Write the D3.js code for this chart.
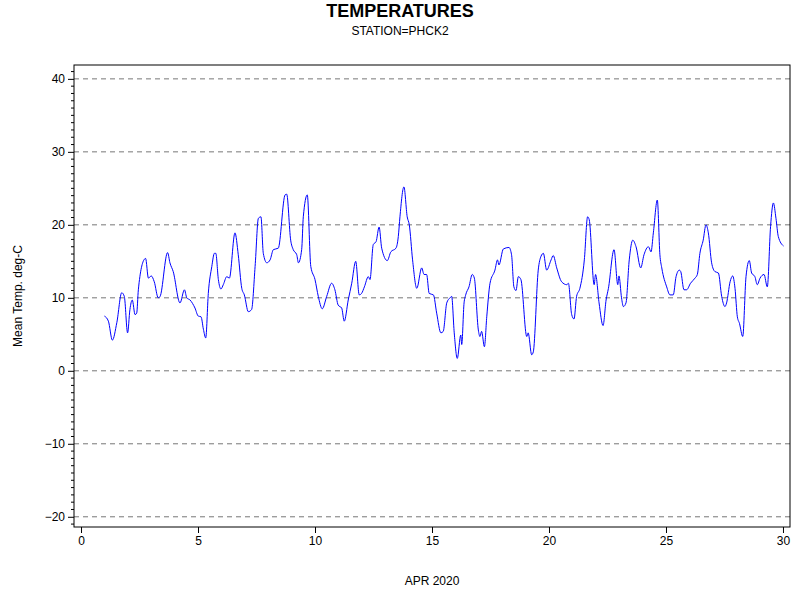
<!DOCTYPE html>
<html><head><meta charset="utf-8">
<script src="https://cdn.jsdelivr.net/npm/d3@7"></script>
<style>body{margin:0;background:#fff}svg{display:block;font-family:Arial,"Liberation Sans",sans-serif}</style>
</head><body><svg id="c" width="800" height="600"></svg>
<script>
const xTicks=[0,5,10,15,20,25,30];
const yTicks=[-20,-10,0,10,20,30,40];
const days=[1.0,1.17,1.34,1.53,1.74,1.85,1.99,2.09,2.19,2.31,2.38,2.45,2.71,2.76,2.88,3.0,3.13,3.3,3.38,3.7,3.8,3.94,4.23,4.42,4.52,4.66,4.87,5.01,5.13,5.23,5.33,5.44,5.59,5.7,5.76,5.87,5.98,6.08,6.23,6.34,6.58,6.72,6.87,6.98,7.15,7.29,7.44,7.58,7.69,7.79,7.94,8.08,8.22,8.43,8.72,8.79,8.96,9.07,9.22,9.29,9.43,9.5,9.67,9.82,10.0,10.14,10.31,10.5,10.71,10.85,10.99,11.14,11.25,11.42,11.57,11.74,11.89,11.99,12.11,12.28,12.35,12.49,12.61,12.74,12.85,13.09,13.24,13.46,13.56,13.63,13.8,13.94,14.03,14.17,14.35,14.56,14.66,14.77,14.88,15.06,15.2,15.38,15.48,15.63,15.77,15.84,15.95,16.08,16.23,16.27,16.37,16.44,16.58,16.72,16.81,16.98,17.05,17.12,17.24,17.34,17.48,17.69,17.8,17.86,18.05,18.29,18.4,18.5,18.59,18.69,18.8,19.05,19.11,19.26,19.33,19.54,19.66,19.76,19.9,20.09,20.18,20.33,20.54,20.76,20.83,20.97,21.07,21.18,21.32,21.51,21.65,21.72,21.93,21.99,22.14,22.31,22.44,22.54,22.78,22.94,22.99,23.1,23.18,23.29,23.43,23.58,23.72,23.92,24.06,24.25,24.36,24.46,24.63,24.74,24.82,25.03,25.17,25.31,25.43,25.57,25.63,25.77,25.88,26.05,26.24,26.34,26.45,26.59,26.71,26.81,26.95,27.09,27.24,27.38,27.52,27.59,27.74,27.85,27.95,28.05,28.14,28.28,28.42,28.56,28.66,28.8,28.9,29.02,29.19,29.33,29.47,29.59,29.7,29.8,30.02];
const temps=[7.5,6.8,4.2,6.6,10.7,10.2,5.2,8.4,9.7,7.7,7.9,11.1,15.3,15.4,12.7,13.0,12.2,10.0,10.2,16.2,14.8,13.6,9.3,11.1,10.0,9.7,8.6,7.5,7.4,5.7,4.5,10.6,14.3,16.1,16.1,12.5,11.2,11.8,12.9,12.7,18.9,15.9,11.3,10.4,8.1,8.4,14.3,20.9,21.1,16.1,14.8,15.2,16.6,16.8,24.1,24.2,17.9,16.6,15.9,14.8,16.6,21.1,24.1,14.3,12.5,10.2,8.5,10.2,12.0,11.1,9.0,8.6,6.8,9.7,12.0,15.0,10.4,10.6,11.5,12.9,12.5,17.3,17.7,19.7,16.8,15.1,16.3,16.8,18.4,21.1,25.2,21.1,20.0,15.2,11.3,14.1,13.2,13.2,10.6,10.4,7.9,5.2,5.4,9.3,10.0,10.2,5.2,1.7,4.9,3.6,9.3,10.4,11.5,13.2,12.7,5.6,4.7,5.4,3.3,7.4,12.0,13.8,15.2,14.5,16.7,16.9,15.9,11.5,11.0,12.9,12.5,4.7,5.2,2.2,2.6,13.8,15.7,16.1,13.8,15.2,15.8,14.1,12.2,11.8,12.0,7.7,7.1,10.2,11.3,15.2,21.1,20.7,11.8,13.2,9.3,6.2,9.7,11.3,16.6,11.8,13.0,10.0,8.8,9.3,15.2,17.9,17.0,14.1,15.9,17.0,16.3,18.9,23.4,15.9,14.1,11.5,10.4,10.4,12.9,13.8,13.6,11.1,11.1,12.0,12.7,13.2,16.1,17.9,20.0,18.9,14.8,13.6,13.4,10.2,8.8,9.3,12.2,13.0,11.3,7.4,6.5,4.7,12.9,15.1,13.4,12.9,11.8,12.7,13.2,11.5,19.8,23.0,20.9,18.4,17.1];

const svg=d3.select("#c");
const L=74,R=790,T=65,B=527;
const x=d3.scaleLinear().domain([-0.3,30.3]).range([L,R]);
const y=d3.scaleLinear().domain([-21.4,41.9]).range([B,T]);

svg.append("text").attr("x",400).attr("y",17).attr("text-anchor","middle").attr("font-size",18).attr("font-weight","bold").text("TEMPERATURES");
svg.append("text").attr("x",400).attr("y",35).attr("text-anchor","middle").attr("font-size",12).text("STATION=PHCK2");

svg.append("g").selectAll("line").data(yTicks).join("line")
 .attr("x1",L).attr("x2",R).attr("y1",d=>y(d)).attr("y2",d=>y(d))
 .attr("stroke","#777").attr("stroke-dasharray","5,4");

const line=d3.line().x((d,i)=>x(days[i])).y(d=>y(d)).curve(d3.curveMonotoneX);
svg.append("path").attr("d",line(temps)).attr("fill","none").attr("stroke","#0000ff").attr("stroke-width",1);

svg.append("rect").attr("x",L).attr("y",T).attr("width",R-L).attr("height",B-T).attr("fill","none").attr("stroke","#000");

const xa=svg.append("g").attr("transform",`translate(0,${B})`).call(d3.axisBottom(x).tickValues(xTicks).tickSize(6).tickSizeOuter(0).tickFormat(d3.format("d")));
xa.select(".domain").remove();
xa.selectAll("text").attr("font-size",12).attr("font-family","Arial,Liberation Sans,sans-serif");
const ya=svg.append("g").attr("transform",`translate(${L},0)`).call(d3.axisLeft(y).tickValues(yTicks).tickSize(6).tickSizeOuter(0).tickFormat(d3.format("d")));
ya.select(".domain").remove();
ya.selectAll("text").attr("font-size",12).attr("font-family","Arial,Liberation Sans,sans-serif");
const minor=d3.range(-21,42).filter(v=>v%10!==0);
svg.append("g").selectAll("line").data(minor).join("line")
 .attr("x1",L-3).attr("x2",L).attr("y1",d=>y(d)).attr("y2",d=>y(d)).attr("stroke","#000");

svg.append("text").attr("x",432).attr("y",585).attr("text-anchor","middle").attr("font-size",12).text("APR 2020");
svg.append("text").attr("transform","translate(22,296) rotate(-90)").attr("text-anchor","middle").attr("font-size",12).text("Mean Temp. deg-C");
</script></body></html>
